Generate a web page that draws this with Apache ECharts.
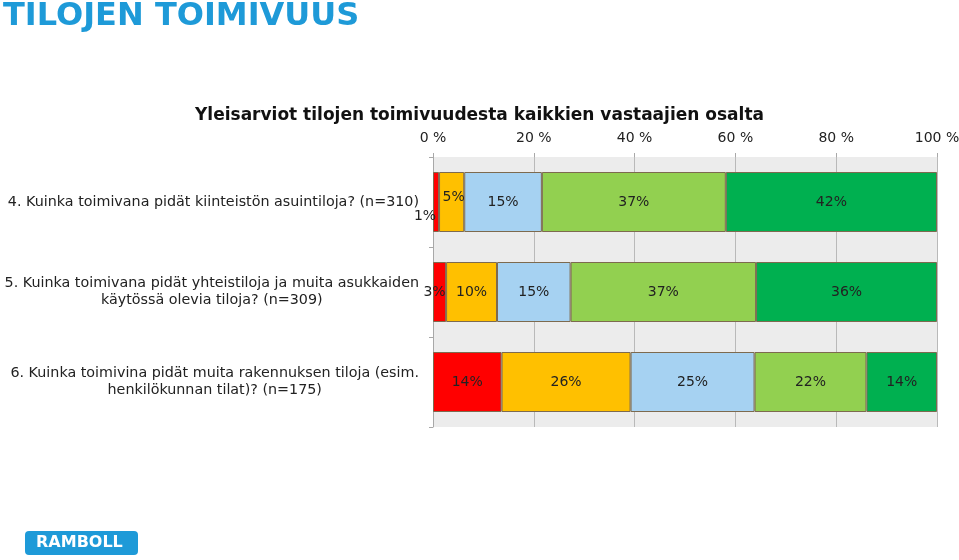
<!DOCTYPE html>
<html>
<head>
<meta charset="utf-8">
<script src="https://cdn.jsdelivr.net/npm/echarts@6/dist/echarts.min.js"></script>
<style>html,body{margin:0;padding:0;background:#fff}#c{width:959px;height:560px}</style>
</head>
<body>
<div id="c"></div>
<script>
const categories = [
  '4. Kuinka toimivana pidät kiinteistön asuintiloja? (n=310)',
  '5. Kuinka toimivana pidät yhteistiloja ja muita asukkaiden\nkäytössä olevia tiloja? (n=309)',
  '6. Kuinka toimivina pidät muita rakennuksen tiloja (esim.\nhenkilökunnan tilat)? (n=175)'
];
const xTicks = [0, 20, 40, 60, 80, 100];
const redVals = [1.2, 2.6, 13.6];
const orangeVals = [5.0, 10.1, 25.6];
const blueVals = [15.4, 14.6, 24.6];
const lightGreenVals = [36.5, 36.8, 22.2];
const greenVals = [41.9, 35.9, 14.0];

const FONT = '"DejaVu Sans", Verdana, sans-serif';
const chart = echarts.init(document.getElementById('c'), null, {renderer: 'canvas'});

function mk(name, color, vals, overrides) {
  return {
    name: name, type: 'bar', stack: 'total', barWidth: 60,
    itemStyle: {color: color, borderColor: '#7d6a4f', borderWidth: 1},
    label: {show: true, position: 'inside', color: '#222', fontSize: 14, fontFamily: FONT,
      formatter: p => Math.round(p.value) + '%'},
    data: vals.map((v, i) => overrides && overrides[i] ? {value: v, label: overrides[i]} : v)
  };
}

chart.setOption({
  animation: false,
  backgroundColor: '#fff',
  title: [
    {text: 'TILOJEN TOIMIVUUS', left: 3, top: 1, padding: 0,
     textStyle: {color: '#1e9ad8', fontSize: 32, fontWeight: 'bold', fontFamily: FONT}},
    {text: 'Yleisarviot tilojen toimivuudesta kaikkien vastaajien osalta', left: 'center', top: 102,
     textStyle: {color: '#111', fontSize: 17, fontWeight: 'bold', fontFamily: FONT}}
  ],
  grid: {left: 433, right: 22, top: 157, bottom: 133, containLabel: false, outerBoundsMode: 'none',
    show: true, backgroundColor: '#ececec', borderWidth: 0},
  xAxis: {
    type: 'value', position: 'top', min: xTicks[0], max: xTicks[xTicks.length - 1], interval: 20,
    axisLine: {show: false},
    axisTick: {show: true, length: 4, lineStyle: {color: '#a8a8a8'}},
    axisLabel: {formatter: '{value} %', color: '#222', fontSize: 14, fontFamily: FONT, margin: 12},
    splitLine: {show: true, lineStyle: {color: '#b9b9b9', width: 1}}
  },
  yAxis: {
    type: 'category', inverse: true, data: categories,
    axisLine: {show: true, lineStyle: {color: '#a8a8a8'}},
    axisTick: {show: true, length: 4, lineStyle: {color: '#a8a8a8'}},
    axisLabel: {
      margin: 14, align: 'right', color: '#222', fontSize: 14.3, fontFamily: FONT, lineHeight: 17,
      formatter: v => v.split('\n').map(s => '{c|' + s + '}').join('\n'),
      rich: {c: {align: 'center', color: '#222', fontSize: 14.3, fontFamily: FONT, lineHeight: 17}}
    }
  },
  series: [
    mk('s1', '#ff0000', redVals, {0: {offset: [-11, 14]}, 1: {offset: [-5, 0]}}),
    mk('s2', '#ffc000', orangeVals, {0: {offset: [2, -5]}}),
    mk('s3', '#a6d2f2', blueVals),
    mk('s4', '#92d050', lightGreenVals),
    mk('s5', '#00b050', greenVals)
  ],
  graphic: [
    {type: 'rect', left: 25, top: 531, shape: {width: 113, height: 24, r: 4}, style: {fill: '#1e9ad8'}},
    {type: 'text', left: 36, top: 535, style: {text: 'RAMBOLL', fill: '#fff', font: 'bold 16px ' + FONT}}
  ]
});
</script>
</body>
</html>
